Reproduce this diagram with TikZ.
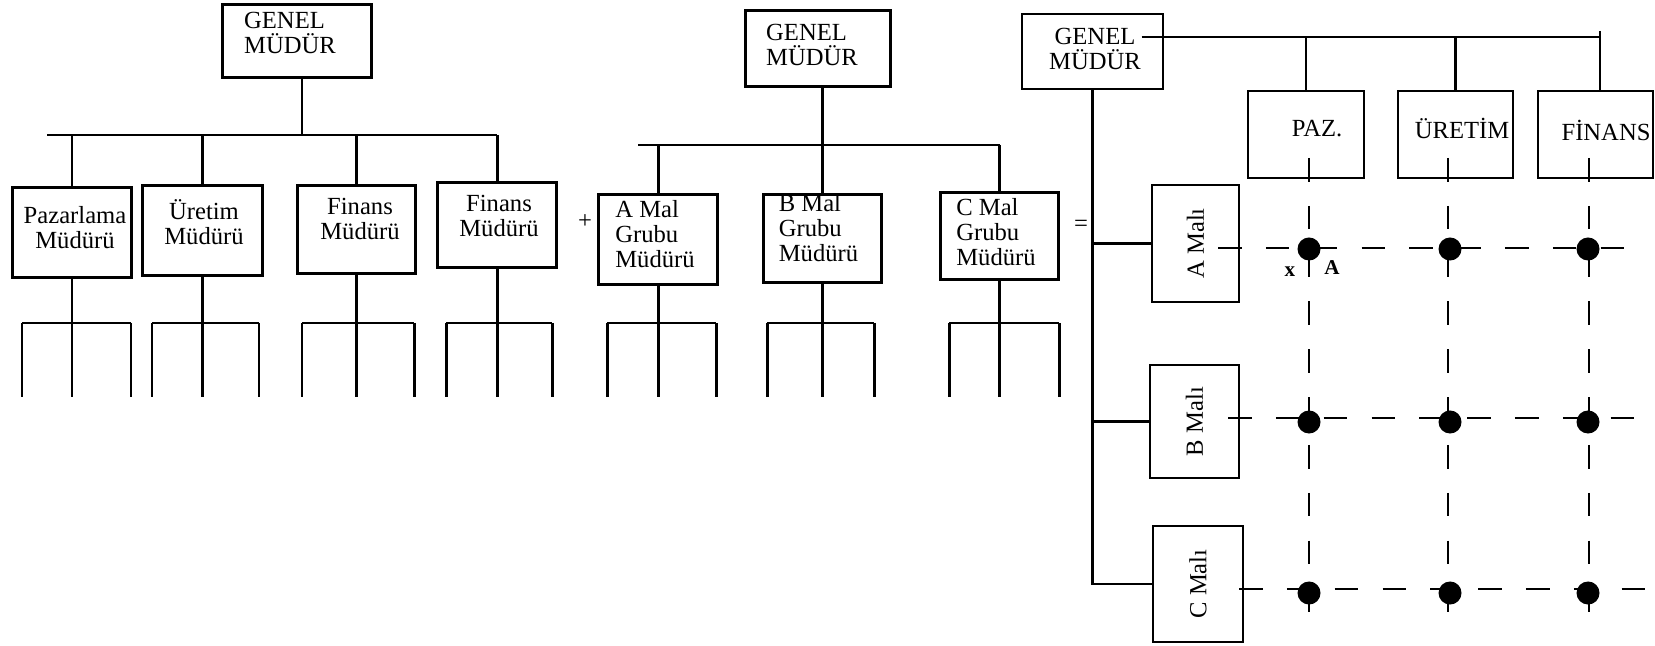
\documentclass[tikz,border=0pt]{standalone}
\usepackage{graphicx}
\usepackage{fontspec}
\setmainfont{Liberation Serif}

\tikzset{
	bx/.style 2 args={draw, line width=0.85pt, minimum width=#1, minimum height=#2, inner sep=0pt},
	rbx/.style 2 args={draw, line width=0.6pt, minimum width=#1, minimum height=#2, inner sep=0pt, font=\fontsize{7}{7.1}\selectfont},
	txt/.style={font=\fontsize{7}{7.1}\selectfont, inner sep=0pt, align=center},
	ln/.style={line width=0.85pt},
	rln/.style={line width=0.6pt},
	dsh/.style={line width=0.7pt, dash pattern=on 6.7pt off 6.9pt},
	dot/.style={circle, fill, inner sep=0pt, minimum size=0.23cm}
}

\begin{document}
\begin{tikzpicture}[x=0.01cm, y=-0.01cm]
	\fill[white] (0,0) rectangle (1655,646);
	\useasboundingbox (0,0) rectangle (1655,646);

	% Nodes: functional chart
	\node[bx={1.48cm}{0.72cm}] (gm1) at (297,41) {};
	\node[txt, align=left] (gm1t) at (290,33) {GENEL\\MÜDÜR};
	\node[bx={1.18cm}{0.89cm}] (pm) at (72,232.5) {};
	\node[txt] (pmt) at (75,228) {Pazarlama\\Müdürü};
	\node[bx={1.19cm}{0.89cm}] (um) at (202.5,230.5) {};
	\node[txt] (umt) at (204,222) {Üretim\\Müdürü};
	\node[bx={1.17cm}{0.87cm}] (fm) at (356.5,229.5) {};
	\node[txt] (fmt) at (360,219) {Finans\\Müdürü};
	\node[bx={1.18cm}{0.84cm}] (fm2) at (497,225) {};
	\node[txt] (fm2t) at (499,216) {Finans\\Müdürü};

	% Nodes: product chart
	\node[txt] (plus) at (585,222) {+};
	\node[bx={1.44cm}{0.75cm}] (gm2) at (818,48.5) {};
	\node[txt, align=left] (gm2t) at (812,44.5) {GENEL\\MÜDÜR};
	\node[bx={1.18cm}{0.89cm}] (am) at (658,239.5) {};
	\node[txt, align=left] (amt) at (655,234) {A Mal\\Grubu\\Müdürü};
	\node[bx={1.17cm}{0.87cm}] (bm) at (822.5,238.5) {};
	\node[txt, align=left] (bmt) at (818.5,228) {B Mal\\Grubu\\Müdürü};
	\node[bx={1.17cm}{0.86cm}] (cm) at (999.5,236) {};
	\node[txt, align=left] (cmt) at (996,232) {C Mal\\Grubu\\Müdürü};

	% Nodes: matrix chart
	\node[txt] (eq) at (1081,226) {=};
	\node[rbx={1.41cm}{0.75cm}] (gm3) at (1092.5,51.5) {};
	\node[txt] (gm3t) at (1095,49) {GENEL\\MÜDÜR};
	\node[rbx={1.16cm}{0.87cm}] (paz) at (1306,134.5) {};
	\node[txt] (pazt) at (1317,129) {PAZ.};
	\node[rbx={1.15cm}{0.87cm}] (ure) at (1455.5,134.5) {};
	\node[txt] (uret) at (1462,128) {ÜRETİM};
	\node[rbx={1.15cm}{0.87cm}] (fin) at (1595.5,134.5) {};
	\node[txt] (fint) at (1606,130) {FİNANS};
	\node[rbx={0.87cm}{1.17cm}] (amal) at (1195.5,243.5) {\rotatebox{90}{A Malı}};
	\node[rbx={0.89cm}{1.13cm}] (bmal) at (1194.5,421.5) {\rotatebox{90}{B Malı}};
	\node[rbx={0.90cm}{1.16cm}] (cmal) at (1198,584) {\rotatebox{90}{C Malı}};

	% Edges: functional chart
	\coordinate (bus1) at (47,135);
	\coordinate (j1) at (302,135);
	\draw[ln] (gm1.south -| j1) -- (j1);
	\draw[ln] (bus1) -- (fm2.north |- bus1);
	\foreach \b in {pm,um,fm,fm2}
		\draw[ln] (\b.north |- bus1) -- (\b.north);

	% Edges: product chart
	\coordinate (bus2) at (638,145);
	\draw[ln] (bus2) -- (cm.north |- bus2);
	\draw[ln] (gm2.south -| bm.north) -- (bm.north);
	\draw[ln] (am.north |- bus2) -- (am.north);
	\draw[ln] (cm.north |- bus2) -- (cm.north);

	% Edges: lower levels
	\foreach \b/\xl/\xr in {pm/22/131, um/152/259, fm/302/414, fm2/446/552, am/607/716, bm/767/874, cm/949/1059}{
		\coordinate (\b-l) at (\xl,323);
		\coordinate (\b-r) at (\xr,323);
		\draw[ln] (\b-l) -- (\b-r);
		\draw[ln] (\b.south) -- (\b.south |- 0,397);
		\draw[ln] (\b-l) -- ++(0,74);
		\draw[ln] (\b-r) -- ++(0,74);
	}

	% Edges: matrix chart
	\coordinate (t3) at (1600,37);
	\coordinate (t3up) at (1600,31);
	\draw[rln] (gm3t.east |- t3) -- (t3);
	\draw[rln] (t3up) -- (t3up |- fin.north);
	\draw[rln] (paz.north |- t3) -- (paz.north);
	\draw[rln] (ure.north |- t3) -- (ure.north);
	\draw[rln] (gm3.south) -- (gm3.south |- cmal.west) -- (cmal.west);
	\draw[rln] (gm3.south |- amal.west) -- (amal.west);
	\draw[rln] (gm3.south |- bmal.west) -- (bmal.west);

	% Dashed grid
	\foreach \n/\x in {paz/1309, ure/1448, fin/1589}{
		\coordinate (\n-top) at (\x,158);
		\coordinate (\n-bot) at (\x,617);
		\draw[dsh] (\n-top) -- (\n-bot);
	}
	\foreach \n/\y/\xs/\xe in {amal/248/1218/1627, bmal/418/1228/1637, cmal/589/1239/1647}{
		\coordinate (\n-in) at (\xs,\y);
		\coordinate (\n-end) at (\xe,\y);
		\draw[dsh] (\n-in) -- (\n-end);
	}
	\foreach \n/\x in {paz/1309, ure/1450, fin/1588}
		\foreach \r/\y in {a/249, b/422, c/593}
			\node[dot] (d-\n-\r) at (\x,\y) {};
	\node[txt, font=\fontsize{6}{6}\selectfont\bfseries] (xl) at (1290,272) {x};
	\node[txt, font=\fontsize{6}{6}\selectfont\bfseries] (al) at (1332,268) {A};
\end{tikzpicture}
\end{document}
